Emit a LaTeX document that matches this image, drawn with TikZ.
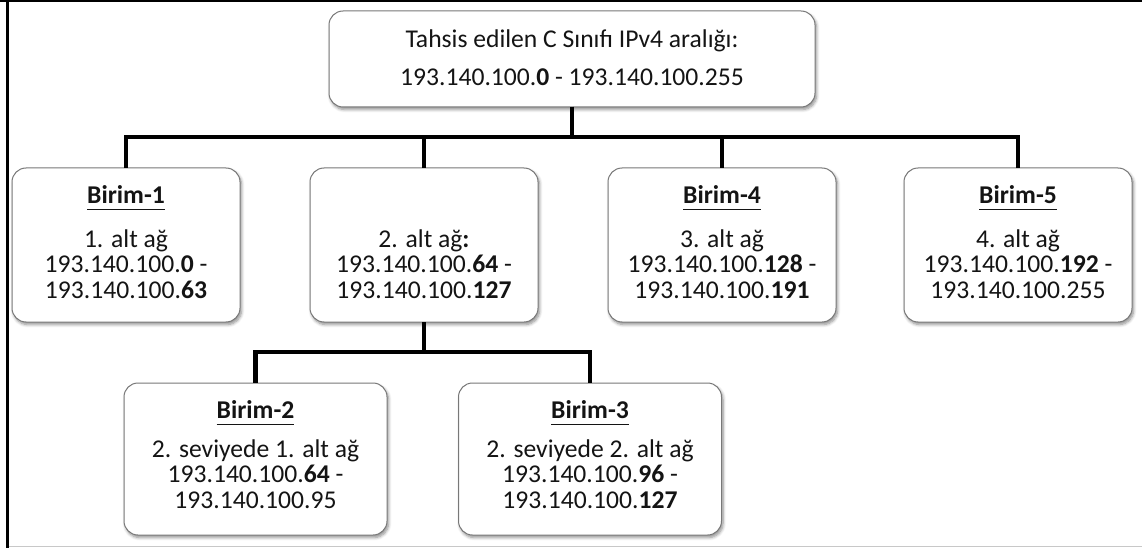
\documentclass[tikz,border=0pt]{standalone}
\usepackage{fontspec}
\setmainfont{Carlito}
\usetikzlibrary{shadows.blur}

% bold heading with a rule under it
\newcommand\headul[1]{\setbox0\hbox{\bfseries #1}\rlap{\rule[-7pt]{\wd0}{1.3pt}}\box0}

\definecolor{boxgray}{RGB}{120,120,120}
\definecolor{framegray}{RGB}{200,200,200}
\definecolor{inkblack}{RGB}{20,20,20}

\tikzset{
  unitbox/.style={draw=boxgray, line width=1pt, fill=white, rounded corners=14pt,
    inner sep=0pt, outer sep=0pt,
    blur shadow={shadow xshift=1.5pt, shadow yshift=-2.5pt, shadow blur steps=6,
      shadow blur radius=3pt, shadow opacity=45}},
  toprow/.style={unitbox, minimum width=228pt, minimum height=154pt},
  lowrow/.style={unitbox, minimum width=263pt, minimum height=152pt},
  rootbox/.style={unitbox, minimum width=486pt, minimum height=96pt},
  boxtext/.style={anchor=north, align=center, inner sep=0pt, outer sep=0pt,
    text=inkblack, font=\fontsize{25.6pt}{25.5pt}\selectfont},
  link/.style={line width=4.5pt, line join=miter, draw=black}
}

\begin{document}
\begin{tikzpicture}[x=1pt, y=-1pt]
\useasboundingbox (0,0) rectangle (1142,548);

% page frame
\fill[black] (0,0) rectangle (1142,2.5);
\fill[black] (6,0) rectangle (8.5,548);
\fill[framegray] (8.5,545.5) rectangle (1142,547);

% boxes
\node[rootbox] (root) at (572,59) {};
\node[toprow] (b1) at (126,245) {};
\node[toprow] (s2) at (424,245) {};
\node[toprow] (b4) at (722,245) {};
\node[toprow] (b5) at (1018,245) {};
\node[lowrow] (b2) at (255.5,459) {};
\node[lowrow] (b3) at (590,459) {};

% box texts
\node[boxtext] (roott) at ([yshift=-19.15pt]root.north)
  {\strut Tahsis edilen C Sınıfı IPv4 aralığı:\\[12.5pt]
   193.140.100.\textbf{0} - 193.140.100.255};
\node[boxtext] (b1t) at ([yshift=-17.15pt]b1.north)
  {\strut\headul{Birim-1}\\[18.5pt]
   1. alt ağ\\193.140.100.\textbf{0} -\\193.140.100.\textbf{63}};
\node[boxtext] (s2t) at ([yshift=-17.15pt]s2.north)
  {\strut\\[18.5pt]
   2. alt ağ\textbf{:}\\193.140.100.\textbf{64} -\\193.140.100.\textbf{127}};
\node[boxtext] (b4t) at ([yshift=-17.15pt]b4.north)
  {\strut\headul{Birim-4}\\[18.5pt]
   3. alt ağ\\193.140.100.\textbf{128} -\\193.140.100.\textbf{191}};
\node[boxtext] (b5t) at ([yshift=-17.15pt]b5.north)
  {\strut\headul{Birim-5}\\[18.5pt]
   4. alt ağ\\193.140.100.\textbf{192} -\\193.140.100.255};
\node[boxtext] (b2t) at ([yshift=-17.15pt]b2.north)
  {\strut\headul{Birim-2}\\[13.5pt]
   2. seviyede 1. alt ağ\\193.140.100.\textbf{64} -\\193.140.100.95};
\node[boxtext] (b3t) at ([yshift=-17.15pt]b3.north)
  {\strut\headul{Birim-3}\\[13.5pt]
   2. seviyede 2. alt ağ\\193.140.100.\textbf{96} -\\193.140.100.\textbf{127}};

% tree connectors
\coordinate (j1) at (572,137);
\coordinate (j2) at (424,352);
\draw[link] (root.south) -- (j1) -| (b1.north);
\draw[link] (root.south) -- (j1) -| (s2.north);
\draw[link] (root.south) -- (j1) -| (b4.north);
\draw[link] (root.south) -- (j1) -| (b5.north);
\draw[link] (s2.south) -- (j2) -| (b2.north);
\draw[link] (s2.south) -- (j2) -| (b3.north);
\end{tikzpicture}
\end{document}
